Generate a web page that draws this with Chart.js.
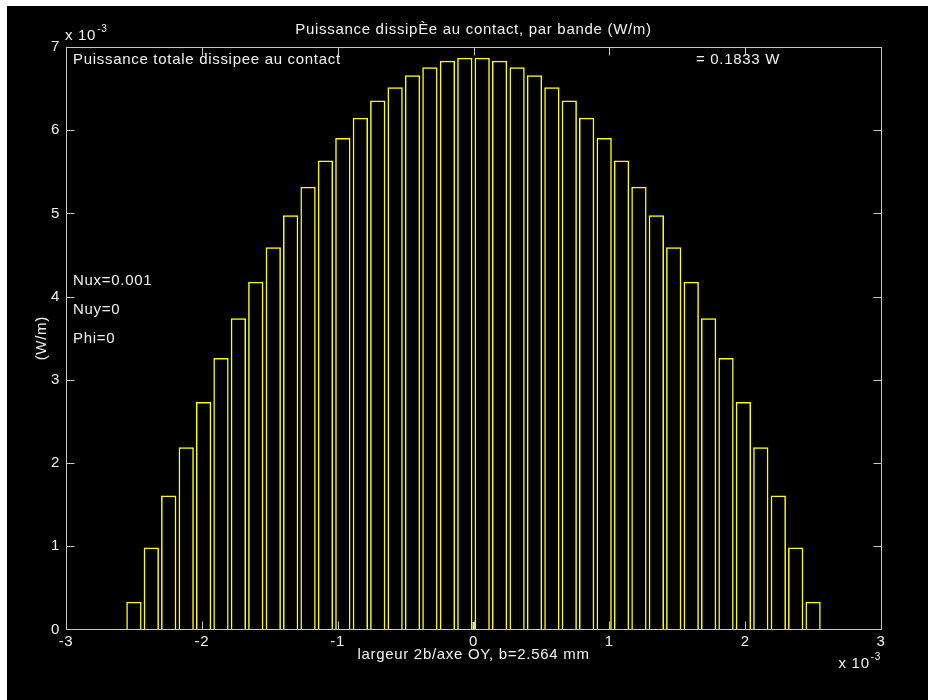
<!DOCTYPE html>
<html>
<head>
<meta charset="utf-8">
<script src="https://cdn.jsdelivr.net/npm/chart.js@4/dist/chart.umd.min.js"></script>
<style>
  body { margin: 0; background: #fff; }
  #wrap { position: absolute; left: 7px; top: 6px; width: 921px; height: 694px; background: #000; }
</style>
</head>
<body>
<div id="wrap"><canvas id="puissance"></canvas></div>
<script>
// band centres along OY, in 10^-3 m (40 bands over 2b)
const bandCentres = [
  -2.500, -2.372, -2.244, -2.115, -1.987, -1.859, -1.731, -1.603, -1.474, -1.346,
  -1.218, -1.090, -0.962, -0.833, -0.705, -0.577, -0.449, -0.321, -0.192, -0.064,
   0.064,  0.192,  0.321,  0.449,  0.577,  0.705,  0.833,  0.962,  1.090,  1.218,
   1.346,  1.474,  1.603,  1.731,  1.859,  1.987,  2.115,  2.244,  2.372,  2.500
];

// dissipated power per band, in 10^-3 W/m
const bandPower = [
  0.333, 0.985, 1.609, 2.189, 2.733, 3.261, 3.741, 4.177, 4.593, 4.977,
  5.320, 5.637, 5.905, 6.149, 6.357, 6.517, 6.661, 6.757, 6.836, 6.872,
  6.872, 6.836, 6.757, 6.661, 6.517, 6.357, 6.149, 5.905, 5.637, 5.320,
  4.977, 4.593, 4.177, 3.741, 3.261, 2.733, 2.189, 1.609, 0.985, 0.333
];

// small yellow mark at the centre of the contact
const centreMarkX = [0, 0];
const centreMarkY = [0, 0.09];

const xTicks = [-3, -2, -1, 0, 1, 2, 3];
const yTicks = [0, 1, 2, 3, 4, 5, 6, 7];

const textColor = '#f2f2f2';
const frameColor = '#c8c8c8';
const fontFamily = '"Liberation Sans", Arial, sans-serif';
const spacing = '0.7px'; // old MATLAB text is a bit wider than Arial

// MATLAB-like box: frame on 4 sides, ticks pointing inwards, texts
const matlabFrame = {
  id: 'matlabFrame',
  beforeDraw(chart) {
    chart.ctx.letterSpacing = spacing;
  },
  afterDraw(chart) {
    const ctx = chart.ctx;
    const a = chart.chartArea;
    const xs = chart.scales.x, ys = chart.scales.y;
    const L = Math.round(a.left) + 0.5, R = Math.round(a.right) + 0.5;
    const T = Math.round(a.top) + 0.5, B = Math.round(a.bottom) + 0.5;
    ctx.save();
    ctx.letterSpacing = spacing;
    ctx.strokeStyle = frameColor;
    ctx.lineWidth = 1;
    ctx.strokeRect(L, T, R - L, B - T);
    ctx.beginPath();
    xs.ticks.forEach(t => {
      const px = Math.round(xs.getPixelForValue(t.value)) + 0.5;
      ctx.moveTo(px, B); ctx.lineTo(px, B - 8);
      ctx.moveTo(px, T); ctx.lineTo(px, T + 8);
    });
    ys.ticks.forEach(t => {
      const py = Math.round(ys.getPixelForValue(t.value)) + 0.5;
      ctx.moveTo(L, py); ctx.lineTo(L + 8, py);
      ctx.moveTo(R, py); ctx.lineTo(R - 8, py);
    });
    ctx.stroke();

    ctx.fillStyle = textColor;
    ctx.textBaseline = 'alphabetic';
    ctx.font = '15px ' + fontFamily;
    ctx.textAlign = 'center';
    ctx.fillText('Puissance dissipÈe au contact, par bande (W/m)', (a.left + a.right) / 2, a.top - 13.5);

    ctx.textAlign = 'left';
    ctx.fillText('Puissance totale dissipee au contact', a.left + 7, a.top + 16.5);
    ctx.fillText('= 0.1833 W', a.left + 630, a.top + 16.5);
    ctx.fillText('Nux=0.001', a.left + 7, a.top + 238);
    ctx.fillText('Nuy=0', a.left + 7, a.top + 267);
    ctx.fillText('Phi=0', a.left + 7, a.top + 296);

    // exponent labels
    ctx.fillText('x 10', a.left - 1, a.top - 7.5);
    let w = ctx.measureText('x 10').width;
    ctx.font = '10px ' + fontFamily;
    ctx.fillText('-3', a.left - 1 + w + 1, a.top - 15);

    ctx.font = '10px ' + fontFamily;
    const sw = ctx.measureText('-3').width;
    ctx.fillText('-3', a.right - sw, a.bottom + 31);
    ctx.font = '15px ' + fontFamily;
    w = ctx.measureText('x 10').width;
    ctx.fillText('x 10', a.right - sw - w - 1, a.bottom + 39);
    ctx.restore();
  }
};

new Chart('puissance', {
  type: 'bar',
  data: {
    datasets: [
      {
        label: 'Puissance par bande',
        data: bandCentres.map((x, i) => ({ x: x, y: bandPower[i] })),
        backgroundColor: 'rgba(0,0,0,0)',
        borderColor: '#ffff00',
        borderWidth: 1.5,
        borderSkipped: 'start',
        barPercentage: 0.88,
        categoryPercentage: 1.0
      },
      {
        type: 'line',
        label: 'centre',
        data: centreMarkX.map((x, i) => ({ x: x, y: centreMarkY[i] })),
        borderColor: '#ffff00',
        borderWidth: 2,
        pointRadius: 0
      }
    ]
  },
  options: {
    responsive: true,
    maintainAspectRatio: false,
    animation: false,
    layout: { padding: { left: 0, right: 47, top: 41, bottom: 0 } },
    plugins: {
      legend: { display: false },
      tooltip: { enabled: false },
      title: { display: false }
    },
    scales: {
      x: {
        type: 'linear',
        min: -3,
        max: 3,
        offset: false,
        grid: { display: false, drawTicks: false },
        border: { display: false },
        afterBuildTicks: s => { s.ticks = xTicks.map(v => ({ value: v })); },
        afterFit: s => { s.height = 70.6; },
        ticks: {
          color: textColor,
          padding: 3,
          font: { family: fontFamily, size: 15 },
          callback: v => String(v)
        },
        title: {
          display: true,
          text: 'largeur 2b/axe OY, b=2.564 mm',
          color: textColor,
          font: { family: fontFamily, size: 15 },
          padding: { top: 0, bottom: 36 }
        }
      },
      y: {
        min: 0,
        max: 7,
        grid: { display: false, drawTicks: false },
        border: { display: false },
        afterBuildTicks: s => { s.ticks = yTicks.map(v => ({ value: v })); },
        afterFit: s => { s.width = 59; },
        ticks: {
          color: textColor,
          padding: 6,
          font: { family: fontFamily, size: 15 },
          callback: v => String(v)
        },
        title: {
          display: true,
          text: '(W/m)',
          color: textColor,
          font: { family: fontFamily, size: 15 },
          padding: { top: 26, bottom: 0 }
        }
      }
    }
  },
  plugins: [matlabFrame]
});
</script>
</body>
</html>
